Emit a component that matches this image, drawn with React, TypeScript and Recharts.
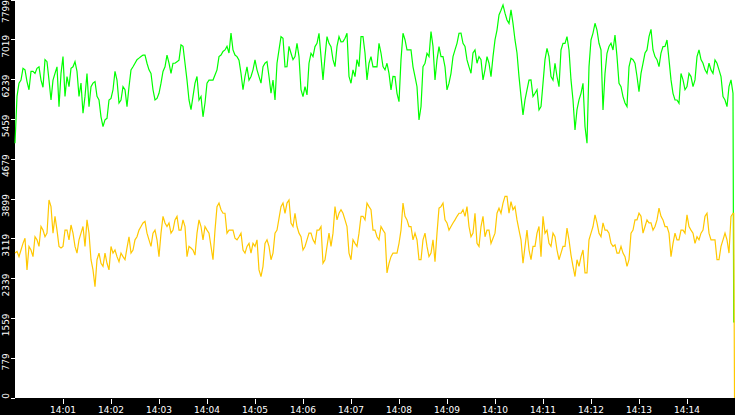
import React from 'react';
import { LineChart, Line, XAxis, YAxis, CartesianGrid } from 'recharts';

// Samples every 5 seconds from 14:00:00, with an extra sample between each pair
const sampleSeconds = 5;
const greenEndSecond = 898.4;
const yellowEndSecond = 899.4;

const greenMain: number[] = [
  4990, 6170, 6460, 6200, 6400, 6360, 6490, 6090, 6590, 5840, 6360, 5710, 6690, 6300, 6460, 6590, 5910, 5580, 6360, 6100,
  6200, 5840, 5320, 5480, 5870, 6400, 5780, 6100, 5710, 6430, 6560, 6660, 6720, 6560, 6360, 5840, 5970, 6400, 6720, 6360,
  6560, 6620, 6890, 6230, 5650, 6170, 5840, 5510, 6170, 6230, 6330, 6690, 6790, 6890, 7150, 6720, 6620, 6040, 6490, 6300,
  6625, 6298, 6494, 6592, 5972, 5841, 6821, 7049, 6494, 6755, 6690, 6690, 5906, 5939, 6755, 6886, 7147, 6233, 7082, 6886,
  6494, 7082, 6984, 7147, 6167, 6298, 6494, 7082, 6233, 6690, 6494, 6951, 6494, 6559, 6037, 6298, 5808, 7147, 6821, 6821,
  6298, 5449, 6494, 6755, 7180, 6233, 6886, 6690, 6037, 6363, 6821, 7147, 6951, 6625, 6363, 6821, 6690, 6233, 6690, 6298,
  7016, 7506, 7702, 7408, 7604, 7016, 6298, 5547, 6037, 6233, 5972, 5645, 6167, 6853, 6298, 6559, 6102, 6951, 7082, 6233,
  5253, 5841, 6167, 4992, 7016, 7343, 6951, 5645, 6755, 6951, 7114, 6167, 5906, 5710, 6657, 6559, 6004, 6559, 6821, 7225,
  6690, 6494, 6886, 7016, 6233, 5841, 5776, 6233, 6102, 6298, 6233, 6821, 6559, 6363, 6429, 6625, 6429, 5906, 5710, 6233,
];

const greenMid: number[] = [
  5910, 6230, 6430, 6040, 6400, 6460, 6230, 6630, 6230, 6230, 6490, 6360, 5910, 6100, 6490, 6400, 6170, 5910, 5710, 6170,
  5910, 5510, 5450, 5840, 6040, 6230, 5840, 6040, 6100, 6490, 6630, 6690, 6720, 6430, 6040, 5870, 6170, 6490, 6560, 6560,
  6590, 6920, 6560, 5840, 5910, 6300, 5910, 5780, 6230, 6230, 6430, 6720, 6820, 6760, 6820, 6690, 6360, 6300, 6230, 6430,
  6430, 6170, 6560, 6300, 6230, 6560, 7080, 6490, 6890, 6630, 6950, 6040, 6100, 6560, 6690, 6950, 6690, 6690, 6950, 6630,
  6890, 6980, 7050, 6300, 6430, 6630, 7080, 6760, 6560, 6490, 6490, 6760, 6430, 6360, 6300, 5970, 6630, 7020, 6820, 6490,
  6100, 5710, 6560, 6690, 6890, 6630, 6690, 6490, 6170, 6690, 6950, 7150, 6890, 6490, 6760, 6560, 6630, 6430, 6560, 6690,
  7210, 7600, 7540, 7340, 7340, 6760, 5910, 5840, 6230, 5910, 6040, 5710, 6630, 6690, 6230, 6300, 6820, 6950, 6820, 5840,
  5650, 5970, 5320, 6490, 7150, 7210, 6820, 6360, 6890, 6820, 6690, 6100, 5780, 6490, 6630, 6300, 6360, 6760, 7080, 6820,
  6630, 6760, 6890, 6630, 5970, 5840, 6360, 6040, 6360, 6100, 6690, 6630, 6430, 6560, 6360, 6560, 6300, 5840, 6100, 5970,
];

const yellowMain: number[] = [
  2840, 2770, 3030, 2510, 2900, 3160, 2970, 3290, 3230, 3750, 3560, 2970, 2970, 3290, 3390, 2970, 3100, 3360, 3490, 2710,
  2180, 2840, 2580, 2640, 2970, 2900, 2670, 2770, 2940, 2840, 3100, 3290, 3430, 3230, 2970, 3290, 2770, 3560, 3360, 3230,
  3490, 3290, 3490, 2770, 2940, 2800, 3490, 3100, 3290, 2970, 3290, 3820, 3620, 3230, 3290, 3130, 3160, 2900, 2970, 2840,
  2970, 2510, 2580, 3100, 2710, 3230, 3520, 3820, 3820, 3430, 3620, 3230, 2900, 3100, 3230, 3030, 3290, 2640, 2970, 2970,
  3750, 3620, 3620, 3360, 2710, 3030, 3230, 3560, 3820, 3690, 3290, 3100, 3290, 2450, 2770, 2840, 3030, 3820, 3490, 3360,
  3230, 2710, 3100, 2970, 2840, 2670, 3720, 3820, 3430, 3360, 3490, 3620, 3690, 3750, 3160, 3620, 2970, 3560, 3290, 3030,
  3230, 3720, 3820, 3950, 3850, 3750, 3290, 2640, 3290, 2710, 2970, 3360, 3560, 3290, 2970, 3160, 2710, 2970, 3330, 2800,
  2380, 2580, 2900, 2450, 3230, 3590, 3230, 3430, 3290, 3030, 3000, 2840, 2840, 2580, 3230, 3490, 3620, 3230, 3490, 3430,
  3360, 3720, 3490, 3360, 2770, 3230, 3100, 3290, 3590, 3290, 3030, 3100, 3290, 3620, 3100, 3100, 2710, 3100, 3100, 3560,
];

const yellowMid: number[] = [
  2870, 2900, 3130, 2970, 2770, 3100, 3360, 3160, 3880, 3230, 3290, 2940, 3290, 3100, 3230, 2840, 3230, 2970, 3230, 2510,
  2710, 2640, 2840, 2510, 2840, 2770, 2840, 2710, 3160, 2900, 3160, 3360, 3460, 3100, 3230, 3100, 3230, 3430, 3430, 3290,
  3560, 3290, 3360, 2970, 2900, 3230, 3360, 3360, 3230, 2710, 3750, 3690, 3620, 3290, 3290, 3100, 3230, 2840, 3030, 3030,
  3100, 2380, 3030, 2970, 2840, 3290, 3750, 3620, 3880, 3360, 3360, 3160, 2970, 3230, 3100, 3290, 3360, 2710, 3230, 3230,
  3490, 3690, 3490, 2840, 3100, 2970, 3560, 3490, 3750, 3290, 3160, 3360, 3230, 2640, 2840, 2840, 3290, 3560, 3360, 3100,
  3100, 2710, 3230, 2770, 3100, 3230, 3750, 3490, 3290, 3430, 3560, 3620, 3560, 3360, 3230, 3030, 3360, 3160, 3290, 3130,
  3620, 3620, 3950, 3620, 3690, 3490, 3100, 2970, 2900, 2970, 3230, 2770, 3230, 3030, 3230, 2900, 2840, 2970, 3100, 2580,
  2710, 2770, 2450, 3100, 3360, 3430, 3160, 3290, 3230, 2970, 2840, 2970, 2770, 2710, 3290, 3490, 3560, 3360, 3430, 3290,
  3490, 3560, 3360, 3230, 3030, 3100, 3290, 3230, 3360, 3230, 3160, 3230, 3560, 3230, 3100, 2710, 2970, 3230, 2840, 3620,
];

const greenEnd = 1490;
const yellowEnd = 0;

const xTickSeconds = [60, 120, 180, 240, 300, 360, 420, 480, 540, 600, 660, 720, 780, 840];
const xTickLabels = ['14:01', '14:02', '14:03', '14:04', '14:05', '14:06', '14:07', '14:08', '14:09', '14:10', '14:11', '14:12', '14:13', '14:14'];

const yTickValues = [0, 779.9, 1559.8, 2339.7, 3119.6, 3899.5, 4679.4, 5459.3, 6239.2, 7019.1, 7799];
const yTickLabels = ['0', '779', '1559', '2339', '3119', '3899', '4679', '5459', '6239', '7019', '7799'];

const data: { t: number; green: number; yellow: number }[] = [];
greenMain.forEach((g, i) => {
  data.push({ t: i * sampleSeconds, green: g, yellow: yellowMain[i] });
  data.push({ t: i * sampleSeconds + sampleSeconds / 2, green: greenMid[i], yellow: yellowMid[i] });
});
const lastYellow = yellowMid[yellowMid.length - 1];
data.push({ t: greenEndSecond, green: greenEnd, yellow: lastYellow });
data.push({ t: yellowEndSecond, green: greenEnd, yellow: yellowEnd });

const FONT = 'DejaVu Sans';

const XTick = (props: any) => {
  const { x, y, payload } = props;
  const idx = xTickSeconds.indexOf(payload.value);
  return (
    <g>
      <line x1={x} x2={x} y1={y + 1} y2={y + 6} stroke="#fff" strokeWidth={1} shapeRendering="crispEdges" />
      <text x={x} y={y + 15} textAnchor="middle" fill="#fff" fontSize={9} fontFamily={FONT}>
        {idx >= 0 ? xTickLabels[idx] : ''}
      </text>
    </g>
  );
};

const YTick = (props: any) => {
  const { x, y, payload } = props;
  const idx = yTickValues.indexOf(payload.value);
  const tx = x - 6;
  const ty = Math.max(y - 5, 0);
  return (
    <g>
      <line x1={x - 4} x2={x} y1={y} y2={y} stroke="#fff" strokeWidth={1} shapeRendering="crispEdges" />
      <text
        x={tx}
        y={ty}
        transform={`rotate(-90, ${tx}, ${ty})`}
        textAnchor="end"
        fill="#fff"
        fontSize={9}
        fontFamily={FONT}
      >
        {idx >= 0 ? yTickLabels[idx] : ''}
      </text>
    </g>
  );
};

export default function App() {
  return (
    <div style={{ position: 'absolute', left: 0, top: 0, width: 735, height: 415, background: '#000' }}>
      <LineChart width={735} height={415} data={data} margin={{ top: 0, right: 0, bottom: 0, left: 0 }}>
        <CartesianGrid horizontal={false} vertical={false} fill="#fff" stroke="none" />
        <XAxis
          dataKey="t"
          type="number"
          domain={[0, 900]}
          ticks={xTickSeconds}
          height={17}
          axisLine={false}
          tickLine={false}
          tickSize={0}
          tickMargin={0}
          tick={<XTick />}
          interval={0}
        />
        <YAxis
          type="number"
          domain={[0, 7799]}
          ticks={yTickValues}
          width={15}
          axisLine={false}
          tickLine={false}
          tickSize={0}
          tickMargin={0}
          tick={<YTick />}
          interval={0}
        />
        <Line
          dataKey="green"
          stroke="#00ff00"
          strokeWidth={1.2}
          dot={false}
          isAnimationActive={false}
          type="linear"
        />
        <Line
          dataKey="yellow"
          stroke="#ffc800"
          strokeWidth={1.2}
          dot={false}
          isAnimationActive={false}
          type="linear"
        />
      </LineChart>
    </div>
  );
}
